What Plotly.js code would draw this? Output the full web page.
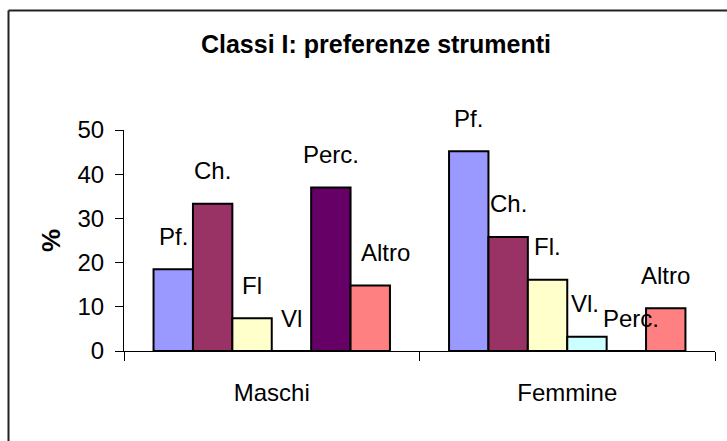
<!DOCTYPE html>
<html>
<head>
<meta charset="utf-8">
<script src="https://cdn.plot.ly/plotly-3.0.1.min.js"></script>
<style>
html,body{margin:0;padding:0;background:#fff;}
#chart{width:727px;height:441px;}
</style>
</head>
<body>
<div id="chart"></div>
<script>
// ---- data ----
var categories = ["Maschi", "Femmine"];
var seriesNames = ["Pf.", "Ch.", "Fl", "Vl", "Perc.", "Altro"];
var pfValues    = [18.5, 45.2];
var chValues    = [33.3, 25.8];
var flValues    = [7.4, 16.1];
var vlValues    = [0, 3.2];
var percValues  = [37.0, 0];
var altroValues = [14.8, 9.7];
var maschiLabels  = ["Pf.", "Ch.", "Fl", "Vl", "Perc.", "Altro"];
var femmineLabels = ["Pf.", "Ch.", "Fl.", "Vl.", "Perc.", "Altro"];
var yTicks = [0, 10, 20, 30, 40, 50];

// ---- style ----
var colors = ["#9999FF", "#993366", "#FFFFCC", "#CCFFFF", "#660066", "#FF8080"];
var FONT = "Arial, 'Liberation Sans', sans-serif";
var W = 727, H = 441;
var M = {l: 124, r: 12, t: 130, b: 90};
var BARGAP = 0.2;
var labelNudgeX = {"0-5": 15, "1-3": -2, "1-4": 5};

var allValues = [pfValues, chValues, flValues, vlValues, percValues, altroValues];
var labelSets = [maschiLabels, femmineLabels];

var traces = allValues.map(function (vals, i) {
  return {
    type: "bar",
    name: seriesNames[i],
    x: categories,
    y: vals,
    marker: {color: colors[i], line: {color: "#000", width: 2}},
    hoverinfo: "none"
  };
});

var nS = allValues.length;
var barW = (1 - BARGAP) / nS;
var annotations = [];
categories.forEach(function (cat, c) {
  allValues.forEach(function (vals, i) {
    var key = c + "-" + i;
    annotations.push({
      xref: "x", yref: "y",
      x: c + (i - (nS - 1) / 2) * barW,
      y: vals[c],
      text: labelSets[c][i],
      showarrow: false,
      xanchor: "center", yanchor: "middle",
      yshift: 33,
      xshift: labelNudgeX[key] || 0,
      font: {family: FONT, size: 24, color: "#000"}
    });
  });
});

// border (top + left lines of chart area), pixel -> paper
var pw = W - M.l - M.r, ph = H - M.t - M.b;
function px(x) { return (x - M.l) / pw; }
function py(y) { return (H - M.b - y) / ph; }
var shapes = [
  {type: "line", xref: "paper", yref: "paper", x0: px(8.5), x1: px(740), y0: py(10.5), y1: py(10.5),
   line: {color: "#222", width: 2}},
  {type: "line", xref: "paper", yref: "paper", x0: px(8.5), x1: px(8.5), y0: py(10.5), y1: py(460),
   line: {color: "#222", width: 2}}
];

var layout = {
  width: W, height: H,
  margin: M,
  paper_bgcolor: "#fff", plot_bgcolor: "#fff",
  showlegend: false,
  barmode: "group",
  bargap: BARGAP,
  bargroupgap: 0,
  font: {family: FONT, color: "#000"},
  title: {
    text: "Classi I: preferenze strumenti",
    font: {family: FONT, size: 25, weight: "bold", color: "#000"},
    xref: "container", yref: "container",
    x: 376 / W, xanchor: "center",
    y: 1 - 44.5 / H, yanchor: "middle"
  },
  xaxis: {
    type: "category",
    tickson: "boundaries",
    ticks: "outside", ticklen: 9, tickcolor: "#000", tickwidth: 1,
    showline: true, linecolor: "#000", linewidth: 1,
    showgrid: false, zeroline: false,
    tickfont: {family: FONT, size: 24, color: "#000"},
    ticklabelstandoff: 20,
    fixedrange: true
  },
  yaxis: {
    range: [0, 50],
    tickvals: yTicks,
    ticktext: yTicks.map(String),
    ticks: "outside", ticklen: 8, tickcolor: "#000", tickwidth: 1,
    showline: true, linecolor: "#000", linewidth: 1,
    showgrid: false, zeroline: false,
    tickfont: {family: FONT, size: 24, color: "#000"},
    ticklabelstandoff: 6,
    title: {text: "%", font: {family: FONT, size: 26, weight: "bold", color: "#000"}, standoff: 9},
    fixedrange: true
  },
  annotations: annotations,
  shapes: shapes
};

Plotly.newPlot("chart", traces, layout, {staticPlot: true, displayModeBar: false});
</script>
</body>
</html>
